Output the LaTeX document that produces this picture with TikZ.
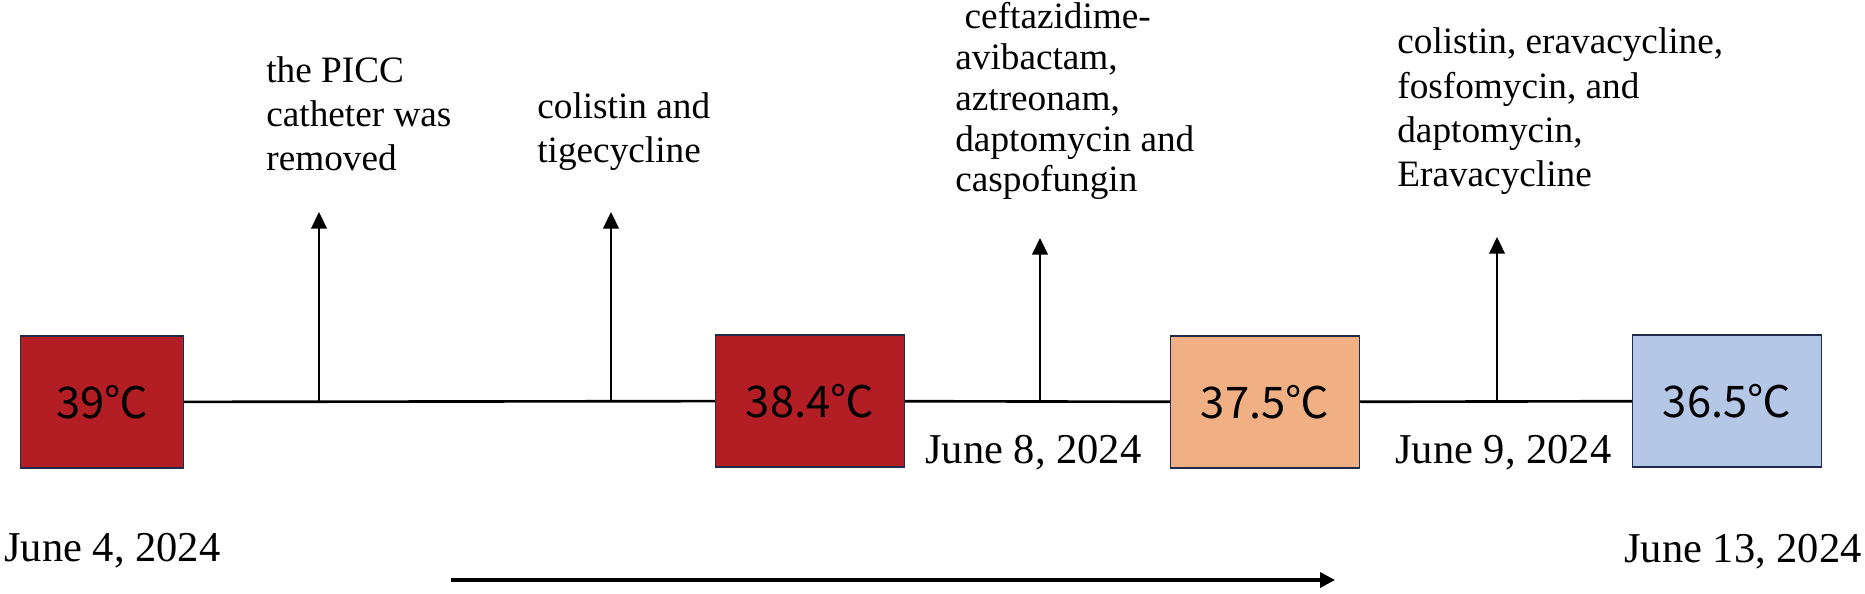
\documentclass[tikz,border=0pt]{standalone}
\usepackage{fontspec}
\setmainfont{Liberation Serif}
\newfontfamily\tempfont{Noto Sans CJK SC}
\usepackage{xcolor}
\usetikzlibrary{positioning, arrows.meta}

\definecolor{hot}{HTML}{B31E24}
\definecolor{warm}{HTML}{F0B084}
\definecolor{normal}{HTML}{B4C7E7}
\definecolor{boxline}{HTML}{1F2A4C}

\begin{document}
\begin{tikzpicture}[
    x=0.02cm, y=-0.02cm,
    temp/.style={rectangle, draw=boxline, line width=0.85pt, minimum width=3.78cm, minimum height=2.64cm, inner sep=0pt, font=\tempfont\fontsize{24.8}{28}\selectfont},
    event/.style={anchor=base west, align=left, inner sep=0pt, font=\fontsize{21.2}{25.3}\selectfont},
    date/.style={inner sep=0pt, font=\fontsize{24.2}{28}\selectfont},
    axis/.style={line width=1.5pt},
    arrow/.style={-{Triangle[length=9.5pt, width=9pt]}, line width=0.95pt},
    timeline/.style={-{Triangle[length=8.5pt, width=8.5pt]}, line width=1.9pt}
]
    \useasboundingbox (0,0) rectangle (1865,594);

    % Temperatures
    \node[temp, fill=hot, minimum width=3.26cm] (t1) at (102,402) {39℃};
    \node[temp, fill=hot] (t2) at (810,401) {38.4℃};
    \node[temp, fill=warm] (t3) at (1265,402) {37.5℃};
    \node[temp, fill=normal] (t4) at (1727,401) {36.5℃};

    % Axis
    \draw[axis] (t1) -- (t2);
    \draw[axis] (t2) -- (t3);
    \draw[axis] (t3) -- (t4);

    % Events (placed by the baseline of their last line)
    \node[event] (e1) at (266,171) {the PICC\\catheter was\\removed};
    \node[event] (e2) at (537,163) {colistin and\\tigecycline};
    \node[event, font=\fontsize{21.2}{23.3}\selectfont] (e3) at (955,192) {\ ceftazidime-\\avibactam,\\aztreonam,\\daptomycin and\\caspofungin};
    \node[event] (e4) at (1397,187) {colistin, eravacycline,\\fosfomycin, and\\daptomycin,\\Eravacycline};

    % Arrows
    \coordinate (b1) at (319,402);
    \coordinate (a1) at (319,212);
    \coordinate (b2) at (611,402);
    \coordinate (a2) at (611,212);
    \coordinate (b3) at (1040,402);
    \coordinate (a3) at (1040,238);
    \coordinate (b4) at (1497,402);
    \coordinate (a4) at (1497,237);
    \draw[arrow] (b1) -- (a1);
    \draw[arrow] (b2) -- (a2);
    \draw[arrow] (b3) -- (a3);
    \draw[arrow] (b4) -- (a4);

    % Dates
    \node[date, anchor=base west] (d1) at (4,561) {June 4, 2024};
    \node[date, anchor=base west] (d2) at (925,463) {June 8, 2024};
    \node[date, anchor=base west] (d3) at (1395,463) {June 9, 2024};
    \node[date, anchor=base east] (d4) at (1862,562) {June 13, 2024};

    % Time direction
    \coordinate (s) at (451,580);
    \coordinate (f) at (1335,580);
    \draw[timeline] (s) -- (f);
\end{tikzpicture}
\end{document}
